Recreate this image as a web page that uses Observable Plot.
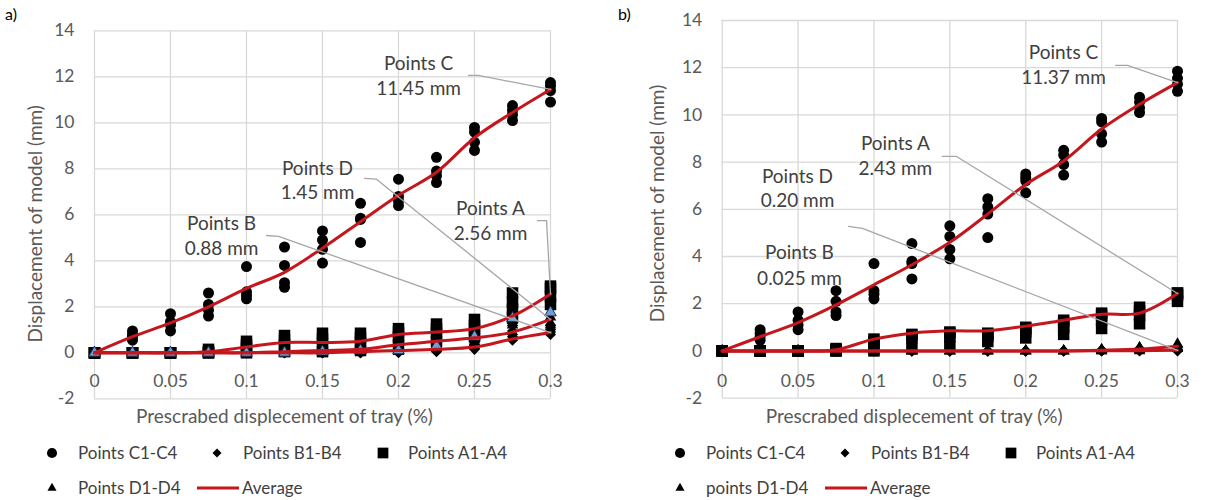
<!DOCTYPE html>
<html>
<head>
<meta charset="utf-8">
<script src="https://cdn.jsdelivr.net/npm/d3@7"></script>
<script src="https://cdn.jsdelivr.net/npm/@observablehq/plot@0.6"></script>
<style>
  body { margin: 0; background: #fff; font-family: Lato, "Open Sans", sans-serif; }
  #chart { position: relative; width: 1213px; height: 500px; overflow: hidden; }
  .panel { position: absolute; top: 0; width: 600px; height: 500px; }
  .panel > svg { position: absolute; left: 0; }
  .tag { position: absolute; top: 4px; font-size: 16px; color: #000; }
</style>
</head>
<body>
<div id="chart"></div>
<script>
// Prescribed tray displacement steps (%)
const steps = [0, 0.025, 0.05, 0.075, 0.1, 0.125, 0.15, 0.175, 0.2, 0.225, 0.25, 0.275, 0.3];
const xTicks = [0, 0.05, 0.1, 0.15, 0.2, 0.25, 0.3];
const xTickLabels = ["0", "0.05", "0.1", "0.15", "0.2", "0.25", "0.3"];
const yTicks = [-2, 0, 2, 4, 6, 8, 10, 12, 14];
const xTitle = "Prescrabed displecement of tray (%)";
const yTitle = "Displacement of model (mm)";

// ---- Panel a) : four measured points per step for each group ----
const aPointsC = [
  [0, 0, 0, 0], [0.55, 0.7, 0.8, 0.95], [0.95, 1.2, 1.35, 1.7], [1.6, 1.85, 2.1, 2.6],
  [2.35, 2.5, 2.65, 3.75], [2.85, 3.05, 3.8, 4.6], [3.9, 4.5, 4.9, 5.3], [4.8, 5.8, 5.85, 6.5],
  [6.4, 6.6, 6.8, 7.55], [7.4, 7.7, 7.9, 8.5], [8.8, 9.15, 9.6, 9.8], [10.1, 10.35, 10.55, 10.75],
  [10.9, 11.4, 11.6, 11.75]
];
const aPointsB = [
  [0, 0, 0, 0], [0, 0, 0, 0], [0, 0, 0, 0], [0, 0, 0, 0], [0, 0, 0, 0], [0, 0, 0, 0],
  [0, 0, 0, 0], [0, 0, 0, 0.05], [0, 0.05, 0.1, 0.15], [0.05, 0.1, 0.15, 0.2],
  [0.15, 0.2, 0.3, 0.35], [0.55, 0.7, 0.8, 0.95], [0.8, 0.9, 1.0, 1.2]
];
const aPointsA = [
  [0, 0, 0, 0], [0, 0, 0, 0], [0, 0, 0, 0], [0, 0, 0.05, 0.15], [0, 0.2, 0.35, 0.5],
  [0.05, 0.35, 0.55, 0.75], [0.05, 0.4, 0.6, 0.85], [0.1, 0.45, 0.65, 0.85],
  [0.35, 0.7, 0.9, 1.05], [0.5, 0.85, 1.05, 1.25], [0.7, 1.0, 1.2, 1.45],
  [1.55, 1.9, 2.2, 2.6], [2.1, 2.45, 2.8, 2.9]
];
// D1, D2, D3, D4 per step
const aPointsD = [
  [0, 0, 0, 0], [0, 0, 0, 0], [0, 0, 0, 0], [0, 0, 0, 0], [0, 0, 0, 0],
  [0, 0.05, 0.05, 0], [0, 0.05, 0.1, 0.05], [0.05, 0.1, 0.15, 0.1], [0.05, 0.15, 0.15, 0.1],
  [0.2, 0.25, 0.3, 0.3], [0.45, 0.55, 0.65, 0.7], [1.2, 1.3, 1.4, 1.5], [1.2, 1.3, 1.55, 1.75]
];
const aAverageC = [0, 0.7, 1.3, 2.0, 2.8, 3.5, 4.55, 5.7, 6.85, 7.85, 9.35, 10.45, 11.45];
const aAverageA = [0, 0, 0, 0.05, 0.25, 0.45, 0.45, 0.5, 0.8, 0.9, 1.05, 1.6, 2.56];
const aAverageD = [0, 0, 0, 0, 0, 0.05, 0.1, 0.15, 0.35, 0.5, 0.65, 0.9, 1.45];
const aAverageB = [0, 0, 0, 0, 0, 0, 0, 0.05, 0.1, 0.15, 0.25, 0.6, 0.88];

// ---- Panel b) ----
const bPointsC = [
  [0, 0, 0, 0], [0.45, 0.6, 0.75, 0.9], [0.9, 1.1, 1.3, 1.65], [1.5, 1.65, 2.1, 2.55],
  [2.2, 2.4, 2.55, 3.7], [3.05, 3.7, 3.8, 4.55], [3.9, 4.3, 4.85, 5.3], [4.8, 5.8, 6.1, 6.45],
  [6.7, 7.2, 7.35, 7.5], [7.45, 7.9, 8.3, 8.5], [8.85, 9.2, 9.7, 9.85], [10.1, 10.3, 10.55, 10.75],
  [11.0, 11.3, 11.55, 11.85]
];
const bPointsB = [
  [0, 0, 0, 0], [0, 0, 0, 0], [0, 0, 0, 0], [0, 0, 0, 0], [0, 0, 0, 0], [0, 0, 0, 0],
  [0, 0, 0, 0], [0, 0, 0, 0], [0, 0, 0, 0], [0, 0, 0, 0],
  [0, 0, 0.02, 0.05], [0, 0.02, 0.05, 0.1], [0, 0.02, 0.03, 0.05]
];
const bPointsA = [
  [0, 0, 0, 0], [0, 0, 0, 0], [0, 0, 0, 0], [0, 0, 0.05, 0.1], [0, 0.3, 0.4, 0.5],
  [0.1, 0.55, 0.65, 0.7], [0.2, 0.6, 0.75, 0.8], [0.4, 0.6, 0.7, 0.75], [0.55, 0.8, 0.95, 1.0],
  [0.7, 1.0, 1.2, 1.3], [0.95, 1.3, 1.5, 1.6], [1.15, 1.5, 1.7, 1.85], [2.1, 2.35, 2.45, 2.45]
];
const bPointsD = [
  [0, 0, 0, 0], [0, 0, 0, 0], [0, 0, 0, 0], [0, 0, 0, 0], [0, 0, 0, 0], [0, 0, 0, 0],
  [0, 0, 0, 0], [0, 0, 0, 0], [0, 0, 0, 0], [0, 0, 0, 0],
  [0, 0, 0.05, 0.05], [0, 0.05, 0.1, 0.15], [0.1, 0.15, 0.25, 0.3]
];
const bAverageC = [0, 0.6, 1.2, 1.95, 2.8, 3.65, 4.6, 5.8, 7.05, 8.05, 9.4, 10.45, 11.37];
const bAverageA = [0, 0, 0, 0.05, 0.5, 0.75, 0.85, 0.85, 1.05, 1.3, 1.55, 1.6, 2.43];
const bAverageD = [0, 0, 0, 0, 0, 0, 0, 0, 0, 0, 0.03, 0.08, 0.2];
const bAverageB = [0, 0, 0, 0, 0, 0, 0, 0, 0, 0, 0.005, 0.01, 0.025];

const legendLabelsA = ["Points C1-C4", "Points B1-B4", "Points A1-A4", "Points D1-D4", "Average"];
const legendLabelsB = ["Points C1-C4", "Points B1-B4", "Points A1-A4", "points D1-D4", "Average"];

const RED = "#c4161c";
const GRID = "#d9d9d9";
const TICK = "#595959";
const TEXT = "#404040";
const LEADER = "#a6a6a6";
const FONT = "Lato, 'Open Sans', sans-serif";

const tidy = rows => rows.flatMap((vals, i) => vals.map((v, k) => ({x: steps[i], y: v, k})));
const series = vals => vals.map((v, i) => ({x: steps[i], y: v}));
const last = arr => arr[arr.length - 1];

function panel(cfg) {
  const W = 600, H = 425;
  const [fl, ft, fr, fb] = cfg.frame;

  // Callout labels: group name plus the final average value of that group
  const noteText = cfg.notes.flatMap(n => [
    {x: n.tx, y: n.ty1, text: n.name},
    {x: n.tx, y: n.ty2, text: last(n.values).toFixed(n.digits) + " mm"}
  ]);
  const leaders = cfg.notes.filter(n => n.lead).flatMap((n, k) => [
    {k, x: n.lead[0], y: n.lead[1]},
    {k, x: n.lead[2], y: n.lead[3]},
    {k, x: last(steps), y: last(n.values)}
  ]);

  const lineOpts = {x: "x", y: "y", stroke: RED, strokeWidth: 3, curve: "catmull-rom"};
  const dPoints = tidy(cfg.D);

  return Plot.plot({
    width: W, height: H,
    marginLeft: fl, marginTop: ft, marginRight: W - fr, marginBottom: H - fb,
    x: {domain: [0, 0.3], axis: null},
    y: {domain: [-2, 14], axis: null},
    style: {fontFamily: FONT, background: "transparent", overflow: "visible"},
    marks: [
      Plot.ruleX(xTicks, {stroke: GRID, strokeWidth: 1.3}),
      Plot.ruleY(yTicks, {stroke: GRID, strokeWidth: 1.3}),
      Plot.text(yTicks, {y: d => d, frameAnchor: "left", dx: -20, textAnchor: "end",
        text: d => String(d), fontSize: 17.5, fill: TICK}),
      Plot.text(xTicks, {x: d => d, y: () => 0, dy: cfg.xTickDy, text: (d, i) => xTickLabels[i],
        fontSize: 17.5, fill: TICK}),
      Plot.text([xTitle], {frameAnchor: "bottom-left", dx: cfg.xTitleDx, dy: cfg.xTitleDy,
        text: d => d, fontSize: 19, fill: TICK, textAnchor: "middle", lineAnchor: "middle"}),
      Plot.text([yTitle], {frameAnchor: "left", dx: cfg.yTitleDx, dy: cfg.yTitleDy, rotate: -90,
        text: d => d, fontSize: 19, fill: TICK, textAnchor: "middle", lineAnchor: "middle"}),
      Plot.dot(tidy(cfg.C), {x: "x", y: "y", symbol: "circle", r: 5.5, fill: "#000"}),
      Plot.dot(tidy(cfg.B), {x: "x", y: "y", symbol: "diamond2", r: 5, fill: "#000"}),
      Plot.dot(dPoints.filter(d => d.k < 3), {x: "x", y: "y", symbol: "triangle", r: 4.3, fill: "#000"}),
      Plot.dot(tidy(cfg.A), {x: "x", y: "y", symbol: "square", r: 6.5, fill: "#000"}),
      Plot.dot(dPoints.filter(d => d.k === 3), {x: "x", y: "y", symbol: "triangle", r: 4.3,
        fill: cfg.d4Fill, stroke: "#1b2a44", strokeWidth: cfg.d4Stroke}),
      Plot.line(series(cfg.avgB), lineOpts),
      Plot.line(series(cfg.avgD), lineOpts),
      Plot.line(series(cfg.avgA), lineOpts),
      Plot.line(series(cfg.avgC), lineOpts),
      Plot.line(leaders, {x: "x", y: "y", z: "k", stroke: LEADER, strokeWidth: 1.3}),
      Plot.text(noteText, {x: "x", y: "y", text: "text", fontSize: 19, fill: TEXT,
        lineAnchor: "middle"})
    ]
  });
}

function legend(x0, labels) {
  const svg = d3.create("svg").attr("width", 600).attr("height", 75)
    .style("position", "absolute").style("left", "0px").style("top", "425px")
    .style("font-family", FONT);
  const r1 = 28, r2 = 63;
  const items = [
    {sym: d3.symbolCircle, size: 80, x: x0, y: r1, tx: x0 + 26, label: labels[0]},
    {sym: d3.symbolDiamond2, size: 52, x: x0 + 165, y: r1, tx: x0 + 191, label: labels[1]},
    {sym: d3.symbolSquare, size: 115, x: x0 + 331, y: r1, tx: x0 + 356, label: labels[2]},
    {sym: d3.symbolTriangle, size: 36, x: x0, y: r2, tx: x0 + 26, label: labels[3]}
  ];
  for (const it of items) {
    svg.append("path").attr("d", d3.symbol(it.sym, it.size)())
      .attr("transform", `translate(${it.x},${it.y})`).attr("fill", "#000");
    svg.append("text").attr("x", it.tx).attr("y", it.y).attr("dy", "0.36em")
      .attr("font-size", 17).attr("fill", TEXT).text(it.label);
  }
  svg.append("line").attr("x1", x0 + 145).attr("x2", x0 + 187).attr("y1", r2).attr("y2", r2)
    .attr("stroke", RED).attr("stroke-width", 3);
  svg.append("text").attr("x", x0 + 190).attr("y", r2).attr("dy", "0.36em")
    .attr("font-size", 17).attr("fill", TEXT).text(labels[4]);
  return svg.node();
}

const chart = document.getElementById("chart");

function addPanel(left, tag, cfg, legendX0, labels) {
  const div = document.createElement("div");
  div.className = "panel";
  div.style.left = left + "px";
  div.appendChild(panel(cfg));
  div.appendChild(legend(legendX0, labels));
  const t = document.createElement("div");
  t.className = "tag";
  t.style.left = "5px";
  t.textContent = tag;
  div.appendChild(t);
  chart.appendChild(div);
}

addPanel(0, "a)", {
  frame: [94, 30.3, 550, 398.3],
  C: aPointsC, B: aPointsB, A: aPointsA, D: aPointsD,
  avgC: aAverageC, avgA: aAverageA, avgD: aAverageD, avgB: aAverageB,
  d4Fill: "#6c9fd8", d4Stroke: 1,
  xTickDy: 29, xTitleDx: 190, xTitleDy: 18, yTitleDx: -59, yTitleDy: 9,
  notes: [
    {name: "Points C", values: aAverageC, digits: 2, tx: 0.2132, ty1: 12.58, ty2: 11.47,
      lead: [0.2461, 12.06, 0.2526, 12.06]},
    {name: "Points D", values: aAverageD, digits: 2, tx: 0.1467, ty1: 8.01, ty2: 6.97,
      lead: [0.1776, 7.58, 0.1855, 7.55]},
    {name: "Points B", values: aAverageB, digits: 2, tx: 0.0836, ty1: 5.62, ty2: 4.53,
      lead: [0.1132, 5.10, 0.1211, 5.06]},
    {name: "Points A", values: aAverageA, digits: 2, tx: 0.2605, ty1: 6.27, ty2: 5.19,
      lead: [0.2914, 5.75, 0.2974, 5.75]}
  ]
}, 52, legendLabelsA);

addPanel(613, "b)", {
  frame: [108.7, 20, 564, 397.6],
  C: bPointsC, B: bPointsB, A: bPointsA, D: bPointsD,
  avgC: bAverageC, avgA: bAverageA, avgD: bAverageD, avgB: bAverageB,
  d4Fill: "#000", d4Stroke: 0,
  xTickDy: 30.5, xTitleDx: 192, xTitleDy: 18.4, yTitleDx: -64.7, yTitleDy: -5.8,
  notes: [
    {name: "Points C", values: bAverageC, digits: 2, tx: 0.2249, ty1: 12.61, ty2: 11.55,
      lead: [0.2592, 12.10, 0.2671, 12.10]},
    {name: "Points A", values: bAverageA, digits: 2, tx: 0.1141, ty1: 8.75, ty2: 7.73,
      lead: [0.1451, 8.24, 0.1544, 8.24]},
    {name: "Points D", values: bAverageD, digits: 2, tx: 0.0496, ty1: 7.39, ty2: 6.37, lead: null},
    {name: "Points B", values: bAverageB, digits: 3, tx: 0.0509, ty1: 4.17, ty2: 3.07,
      lead: [0.0832, 5.28, 0.0924, 5.19]}
  ]
}, 67, legendLabelsB);
</script>
</body>
</html>
